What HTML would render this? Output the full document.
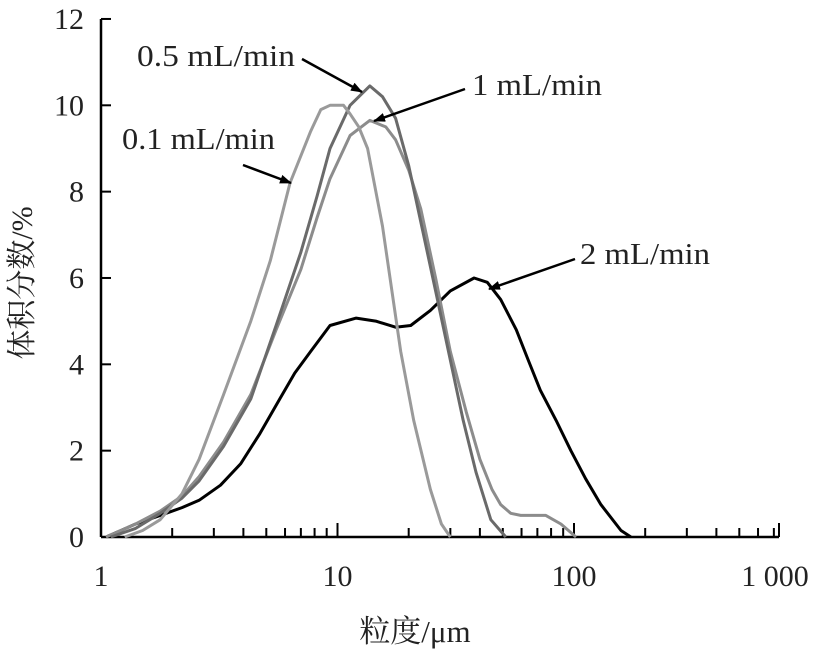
<!DOCTYPE html>
<html><head><meta charset="utf-8"><style>
html,body{margin:0;padding:0;background:#fff}
svg{display:block}
text{font-family:"Liberation Serif","Noto Serif CJK SC","Noto Sans CJK SC",serif;fill:#222}
</style></head><body>
<svg id="chart" width="814" height="652" viewBox="0 0 814 652" xmlns="http://www.w3.org/2000/svg">
<defs><marker id="ah" markerWidth="12" markerHeight="9" refX="11" refY="4.5" orient="auto" markerUnits="userSpaceOnUse"><path d="M0,0 L12,4.5 L0,9 Z" fill="#000"/></marker></defs>
<g id="plot"></g>
</svg>
<script>
const sizes01 = [1.26,1.5,1.78,2.2,2.6,3.3,4.3,5.2,6.3,7.7,8.5,9.3,10.6,11.3,12.3,13.4,15.5,18.5,21,24.7,27.5,30];
const vals01  = [0,0.15,0.4,1.0,1.8,3.3,5.0,6.4,8.2,9.4,9.9,10.0,10.0,9.8,9.5,9.0,7.2,4.3,2.7,1.1,0.3,0];
const sizes05 = [1.1,1.4,1.78,2.2,2.6,3.3,4.3,5.5,7,8.2,9.3,11.3,13.7,15.5,17.6,20,22.5,26,30,34,38.5,44.5,51.5];
const vals05  = [0,0.2,0.55,0.9,1.3,2.1,3.2,4.9,6.6,7.9,9.0,10.0,10.45,10.2,9.7,8.6,7.3,5.7,4.1,2.7,1.5,0.4,0];
const sizes1 = [1.05,1.4,1.78,2.2,2.6,3.3,4.3,5.5,7,8.2,9.3,11.3,13.7,16,17.6,20,22.5,26,30,35,40,45,49,54,59.5,76,88,102];
const vals1  = [0,0.3,0.6,0.95,1.4,2.2,3.3,4.8,6.2,7.4,8.3,9.3,9.65,9.5,9.2,8.5,7.6,6.0,4.3,2.9,1.8,1.1,0.75,0.55,0.5,0.5,0.3,0];
const sizes2 = [1.05,1.4,1.78,2.2,2.6,3.2,3.9,4.7,5.7,6.6,7.7,9.3,12,14.5,17.6,20.4,24.7,30,37.8,43,49,57,64,72,84,97,112,130,158,174];
const vals2  = [0,0.3,0.5,0.68,0.85,1.2,1.7,2.4,3.2,3.8,4.3,4.9,5.07,5.0,4.86,4.9,5.25,5.7,6.0,5.9,5.5,4.8,4.1,3.4,2.7,2.0,1.35,0.75,0.15,0];
const yTicks = [0,2,4,6,8,10,12];
const xMajor = [1,10,100,1000];
const xMajorLabels = ["1","10","100","1 000"];

const X0=101, DEC=236.5, Y0=537, YU=43.17, XEND=779;
const sx = v => Math.min(XEND, X0 + DEC*Math.log10(v));
const sy = v => Y0 - YU*v;
const NS="http://www.w3.org/2000/svg";
const g=document.getElementById('plot');
function mk(tag,attrs){const e=document.createElementNS(NS,tag);for(const k in attrs)e.setAttribute(k,attrs[k]);g.appendChild(e);return e;}

const ya=mk('line',{x1:X0,y1:19,x2:X0,y2:Y0,stroke:'#000','stroke-width':2.5});


const xa=mk('line',{x1:X0,y1:Y0,x2:XEND,y2:Y0,stroke:'#000','stroke-width':2.5});



yTicks.forEach(t=>{
  const l=mk('line',{x1:X0,y1:sy(t),x2:X0+10,y2:sy(t),stroke:'#000','stroke-width':2});
  
  
  const tx=mk('text',{x:84,y:sy(t)+10,'text-anchor':'end','font-size':30});
  tx.textContent=t;
  
  
});
for(let d=0;d<3;d++){for(let m=2;m<=10;m++){
  const v=Math.pow(10,d)*m; const x=sx(v); if(x>=XEND)continue;
  const l=mk('line',{x1:x,y1:Y0,x2:x,y2:Y0-(m===10?14:9),stroke:'#000','stroke-width':2});
  
  
}}
const lastT=mk('line',{x1:XEND,y1:Y0,x2:XEND,y2:Y0-14,stroke:'#000','stroke-width':2});


xMajor.forEach((v,i)=>{
  const tx=mk('text',{x:(i===3?775:sx(v)),y:586,'text-anchor':'middle','font-size':30});
  tx.textContent=xMajorLabels[i];
  
  
});

function series(xs,ys,color,name){
  const d=xs.map((v,i)=>(i?'L':'M')+sx(v).toFixed(1)+','+sy(ys[i]).toFixed(1)).join(' ');
  const p=mk('path',{d:d,fill:'none',stroke:color,'stroke-width':3,'stroke-linejoin':'round'});
  
  
}
series(sizes2,vals2,'#000','series-2-ml-min');
series(sizes1,vals1,'#8c8c8c','series-1-ml-min');
series(sizes05,vals05,'#6a6a6a','series-0-5-ml-min');
series(sizes01,vals01,'#9a9a9a','series-0-1-ml-min');

function ann(text,tx,ty,w,ax1,ay1,ax2,ay2,name){
  const t=mk('text',{x:tx,y:ty,'font-size':31,textLength:w,lengthAdjust:'spacingAndGlyphs'});
  t.textContent=text;
  
  
  const a=mk('line',{x1:ax1,y1:ay1,x2:ax2,y2:ay2,stroke:'#000','stroke-width':2.5,'marker-end':'url(#ah)'});
  
  
}
ann('0.5 mL/min',137,66,158,302,59,362,92,'annotation-0-5');
ann('1 mL/min',472,95,130,465,89,374,121,'annotation-1');
ann('0.1 mL/min',122,149,153,243,165,291,183,'annotation-0-1');
ann('2 mL/min',580,264,130,575,259,489,289,'annotation-2');

const xt=mk('text',{x:415,y:642,'text-anchor':'middle','font-size':31});
xt.textContent='粒度/μm';


const yt=mk('text',{x:0,y:0,'text-anchor':'middle','font-size':30,transform:'translate(32,283) rotate(-90)'});
yt.textContent='体积分数/%';


</script>
</body></html>
